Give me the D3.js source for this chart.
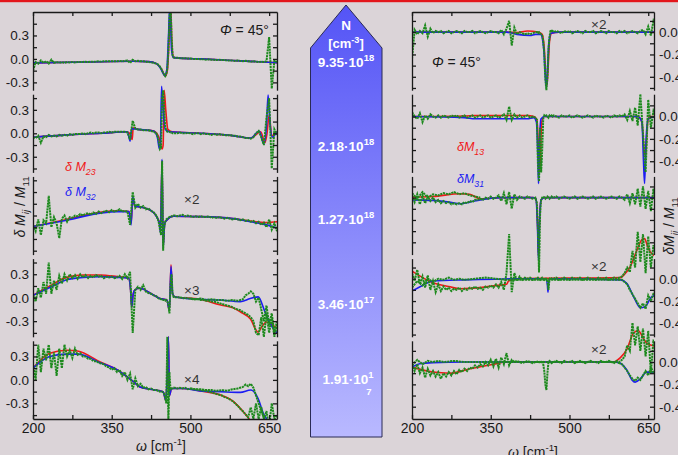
<!DOCTYPE html>
<html><head><meta charset="utf-8">
<script src="https://cdn.jsdelivr.net/npm/d3@7"></script>
<style>html,body{margin:0;padding:0;background:#dbd4d8;overflow:hidden}svg{display:block;font-family:"Liberation Sans",Arial,sans-serif}</style>
</head><body><svg id="c" width="678" height="455"></svg>
<script>
// ---------------- DATA ----------------
// wavenumber grid of the measured (green) spectra, cm^-1
const W = [...d3.range(200, 436, 5), 438,440,442,444,446,448,450,452,454,456,458,460,462,464,466,468, ...d3.range(470, 666, 5)];
const xTicksLabeled = [200, 350, 500, 650];
const xTicksAll = [200, 275, 350, 425, 500, 575, 650];
const densities = ["9.35·10|18", "2.18·10|18", "1.27·10|18", "3.46·10|17", "1.91·10|1"];

// ---- left column: dM23 (red model), dM32 (blue model), measured (green) ----
const redL1 = [[200,-0.05],[300,-0.04],[390,-0.03],[420,-0.035],[435,-0.06],[445,-0.13],[452,-0.22],[456,-0.15],[459,0.2],[462,0.7],[465,0.15],[468,0.02],[480,0.01],[520,0],[580,-0.02],[640,-0.04],[665,-0.05]];
const blueL1 = [[200,-0.05],[300,-0.04],[390,-0.03],[420,-0.035],[435,-0.06],[444,-0.13],[451,-0.21],[455,-0.14],[458,0.25],[461,0.7],[464,0.12],[467,0.02],[480,0.01],[520,0],[580,-0.02],[640,-0.04],[665,-0.05]];
const greenL1 = [-0.15,-0.04,-0.06,-0.02,-0.05,-0.03,-0.06,-0.01,-0.05,-0.04, -0.05,-0.04,-0.05,-0.04,-0.045,-0.04,-0.045,-0.04,-0.04,-0.04, -0.035,-0.04,-0.035,-0.035,-0.035,-0.03,-0.035,-0.03,-0.03,-0.03, -0.03,-0.03,-0.03,-0.025,-0.03,-0.025,-0.02,-0.05,-0.01,-0.03, -0.025,-0.03,-0.03,-0.035,-0.04,-0.045,-0.05,-0.06,
  -0.07,-0.08,-0.1,-0.12,-0.15,-0.18,-0.2,-0.22,-0.2,-0.12,0.1,0.5,0.75,0.3,0.05,0.02,
  0.015,0.015,0.01,0.01,0.01,0.005,0.005,0,0,0, -0.005,-0.005,-0.01,-0.005,-0.01,-0.01,-0.015,-0.01,-0.015,-0.015, -0.02,-0.02,-0.02,-0.025,-0.02,-0.025,-0.03,-0.025,-0.03,-0.035, -0.03,-0.035,-0.04,-0.035,-0.04,-0.03,0.28,-0.38,-0.02,-0.04];

const redL2 = [[200,-0.05],[265,-0.02],[330,0],[380,0.02],[386,-0.02],[389,-0.08],[391,0.07],[400,0.05],[430,0.03],[440,-0.05],[446,-0.2],[448,-0.15],[450,0.55],[453,0.3],[457,0.05],[465,0.02],[520,0],[580,-0.03],[615,-0.06],[634,0.02],[642,-0.12],[646,0],[650,0.23],[655,-0.03],[665,0.02]];
const blueL2 = [[200,-0.05],[265,-0.02],[330,0],[380,0.02],[385,-0.1],[388,0.06],[400,0.05],[430,0.03],[437,-0.05],[441,-0.2],[443,-0.1],[445,0.6],[448,0.3],[452,0.05],[460,0.02],[520,0],[580,-0.03],[615,-0.06],[631,0.03],[640,-0.13],[645,0.1],[648,0.49],[652,0.1],[656,-0.05],[665,0.02]];
const greenL2 = [-0.05,-0.06,-0.03,-0.12,-0.04,-0.05,-0.02,-0.04,-0.03,-0.04, -0.02,-0.03,-0.02,-0.03,-0.01,-0.02,-0.01,-0.01,-0.01,0, -0.01,0,0.01,0,0.01,0.01,0,0.01,0.01,0.02, 0.01,0.02,0.02,0.02,0.02,0.02,0.01,-0.08,0.16,0.06, 0.05,0.05,0.04,0.04,0.04,0.03,0.02,0,
  -0.05,-0.12,-0.2,-0.18,0.45,0.55,0.3,0.08,0.04,0.02,0.02,0.02,0.01,0.01,0,0,
  0,0,0.01,0,0,0.005,0,-0.01,0,0, -0.01,0,-0.01,-0.01,-0.02,-0.01,-0.02,-0.01,-0.02,-0.02, -0.03,-0.02,-0.03,-0.03,-0.04,-0.04,-0.05,-0.06,-0.06,-0.07, -0.05,0,0.03,-0.05,-0.15,0.2,0.45,-0.45,0.05,-0.02];

const redL3 = [[200,-0.14],[264,-0.05],[328,0.04],[360,0.06],[383,0.05],[387,-0.1],[390,0.22],[394,0.12],[404,0.11],[423,0.07],[436,-0.02],[441,-0.1],[443,-0.2],[446,0.7],[448,-0.4],[451,-0.1],[455,-0.06],[467,-0.01],[518,-0.015],[581,-0.04],[614,-0.07],[645,-0.09],[665,-0.08]];
const blueL3 = [[200,-0.14],[264,-0.06],[328,0.03],[360,0.05],[383,0.05],[387,-0.12],[390,0.24],[394,0.12],[404,0.11],[423,0.07],[436,-0.02],[441,-0.1],[443,-0.22],[446,0.72],[448,-0.42],[451,-0.1],[455,-0.06],[467,-0.01],[518,-0.015],[581,-0.04],[614,-0.08],[645,-0.12],[665,-0.16]];
const greenL3 = [-0.12,-0.2,-0.05,-0.25,-0.06,-0.1,0.25,-0.15,-0.02,-0.1, -0.29,-0.04,0,-0.08,-0.02,-0.03,0,-0.01,0.02,0, 0.02,0.03,0.01,0.04,0.02,0.05,0.03,0.05,0.06,0.04, 0.07,0.05,0.06,0.08,0.05,0.06,0.05,-0.12,0.3,0.1, 0.15,0.1,0.12,0.08,0.09,0.06,0.04,0,
  -0.05,-0.1,-0.18,-0.25,0.7,-0.45,-0.15,-0.08,-0.05,-0.04,-0.03,-0.02,-0.01,-0.01,-0.01,0,
  0,-0.01,0,0.01,-0.01,0,-0.01,-0.02,-0.01,-0.02, -0.01,-0.02,-0.02,-0.01,-0.03,-0.02,-0.03,-0.02,-0.03,-0.04, -0.03,-0.04,-0.05,-0.04,-0.05,-0.06,-0.05,-0.07,-0.06,-0.08, -0.07,-0.1,-0.08,-0.12,-0.09,-0.15,-0.05,-0.18,-0.1,-0.2];

const redL4 = [[200,0.03],[232,0.15],[264,0.26],[296,0.29],[328,0.29],[360,0.27],[382,0.25],[386,0.1],[388,-0.12],[391,0.05],[394,0.1],[404,0.12],[423,0.06],[442,-0.01],[455,-0.03],[460,-0.16],[463,0.42],[466,0.05],[471,0.01],[518,-0.02],[556,-0.09],[581,-0.13],[595,-0.18],[614,-0.27],[629,-0.44],[636,-0.37],[645,-0.31],[652,-0.33],[665,-0.39]];
const blueL4 = [[200,0.03],[232,0.13],[264,0.23],[296,0.26],[328,0.27],[360,0.26],[382,0.25],[386,0.1],[388,-0.12],[391,0.05],[394,0.1],[404,0.12],[423,0.06],[442,-0.01],[455,-0.03],[460,-0.16],[463,0.4],[466,0.05],[471,0.01],[518,-0.02],[556,-0.03],[595,-0.05],[614,-0.01],[629,0.01],[642,-0.18],[652,-0.33],[661,-0.42],[665,-0.45]];
const greenL4 = [0.05,-0.05,0.12,0,0.2,0.05,0.45,0.05,0.22,0.1, 0.28,0.18,0.3,0.22,0.3,0.25,0.29,0.24,0.3,0.26, 0.29,0.25,0.28,0.26,0.29,0.27,0.28,0.25,0.27,0.26, 0.27,0.25,0.26,0.28,0.24,0.3,0.25,0.33,-0.45,0.1, 0.14,0.1,0.16,0.08,0.06,0.05,0.03,0.02,
  0,-0.01,-0.01,-0.02,-0.02,-0.03,-0.03,-0.04,-0.03,-0.05,-0.08,-0.2,0.15,0.3,0.05,0.01,
  0.01,0,0.01,-0.01,0,-0.01,-0.01,-0.02,-0.02,-0.02, -0.03,-0.03,-0.04,-0.04,-0.05,-0.05,-0.06,-0.07,-0.08,-0.09, -0.1,-0.11,-0.12,-0.14,-0.15,-0.16,-0.18,-0.2,-0.22,-0.25, -0.3,-0.45,-0.48,-0.25,-0.5,-0.2,-0.45,-0.25,-0.5,-0.35];
const green2L4 = [[500,-0.01],[510,-0.02],[520,-0.01],[530,-0.03],[540,-0.02],[550,-0.03],[560,-0.03],[570,-0.04],[580,-0.03],[590,-0.04],[600,-0.02],[605,0.03],[610,0.05],[615,0.08],[620,0.05],[625,-0.05],[630,0],[635,-0.15],[640,-0.3],[645,-0.1],[650,-0.35],[655,-0.2],[660,-0.45],[665,-0.3]];

const redL5 = [[200,0.15],[232,0.34],[265,0.38],[285,0.37],[328,0.23],[360,0.13],[391,-0.02],[404,-0.09],[423,-0.12],[448,-0.15],[453,-0.26],[456,0.1],[458,0.55],[460,-0.2],[464,-0.11],[486,-0.11],[518,-0.14],[556,-0.19],[581,-0.27],[600,-0.4],[612,-0.5],[620,-0.58]];
const blueL5 = [[200,0.15],[232,0.3],[265,0.33],[285,0.33],[328,0.22],[360,0.13],[391,-0.02],[404,-0.09],[423,-0.12],[448,-0.15],[453,-0.26],[456,0.1],[458,0.55],[460,-0.2],[464,-0.11],[486,-0.11],[518,-0.14],[556,-0.15],[595,-0.16],[615,-0.13],[629,-0.24],[639,-0.43],[645,-0.5],[650,-0.6]];
const greenL5 = [0.2,0,0.45,0.1,0.4,0.25,0.45,0.15,0.35,0.05, 0.4,0.15,0.45,0.3,0.38,0.28,0.4,0.32,0.34,0.3, 0.3,0.27,0.27,0.24,0.24,0.22,0.21,0.2,0.17,0.16, 0.13,0.15,0.1,0.13,0.05,0.1,0,0.08,-0.12,0.02, -0.08,-0.05,-0.1,-0.09,-0.12,-0.11,-0.13,-0.13,
  -0.14,-0.14,-0.15,-0.15,-0.15,-0.16,-0.18,-0.22,-0.3,0.55,-0.55,0.1,-0.12,-0.11,-0.11,-0.1,
  -0.1,-0.11,-0.1,-0.11,-0.1,-0.12,-0.11,-0.12,-0.12,-0.13, -0.13,-0.14,-0.14,-0.15,-0.16,-0.17,-0.18,-0.19,-0.2,-0.22, -0.23,-0.25,-0.27,-0.3,-0.33,-0.37,-0.4,-0.44,-0.48,-0.35, -0.5,-0.3,-0.5,-0.35,-0.5,-0.4,-0.6,-0.3,-0.5,-0.45];
const green2L5 = [[500,-0.11],[510,-0.12],[520,-0.12],[530,-0.13],[540,-0.13],[550,-0.14],[560,-0.13],[570,-0.14],[580,-0.12],[590,-0.11],[600,-0.09],[605,-0.06],[610,-0.08],[615,-0.05],[620,-0.1],[625,-0.2],[630,-0.3],[635,-0.4],[640,-0.48],[645,-0.55]];

// ---- right column: dM13 (red), dM31 (blue), measured (green) ----
const redR1 = [[200,0],[380,0],[400,-0.005],[420,0.01],[440,0],[448,-0.02],[452,-0.15],[455,-0.4],[457,-0.48],[459,-0.35],[462,-0.08],[466,-0.01],[480,0],[665,0]];
const blueR1 = [[200,0],[380,0],[400,-0.02],[425,-0.03],[435,-0.02],[445,-0.02],[451,-0.15],[454,-0.4],[456,-0.5],[458,-0.35],[461,-0.08],[465,-0.01],[480,0],[665,0]];
const greenR1 = [-0.24,0.02,-0.02,0.01,-0.01,0.06,-0.04,0.03,-0.01,0.01, 0,0.01,-0.01,0,0.01,-0.01,0,0.01,0,-0.01, 0.01,0,0,0.01,-0.01,0,0.01,0,-0.01,0, 0.01,0,0,-0.01,0.02,-0.02,0.03,0.1,-0.12,0.04, -0.02,0,-0.01,-0.02,-0.01,-0.02,-0.01,0,
  0,-0.01,0,-0.01,-0.02,-0.03,-0.08,-0.2,-0.42,-0.52,-0.4,-0.15,-0.04,0.02,0,0.01,
  0,0.01,0,-0.01,0.01,0,0.01,-0.01,0,0.01, 0,-0.01,0.01,0,0,0.01,-0.01,0,0.01,0, -0.01,0.01,0,0,-0.01,0.01,0,0.01,-0.01,0, 0.01,0,-0.01,0.01,0.02,-0.02,0.05,-0.03,0.1,0.05];

const redR2 = [[200,0],[300,0.005],[320,0.01],[420,0.01],[432,0],[438,-0.03],[441,-0.3],[443,-0.5],[445,-0.3],[447,-0.05],[452,0],[600,0],[630,0],[638,-0.05],[642,-0.3],[645,-0.35],[648,-0.1],[652,0],[665,0]];
const blueR2 = [[200,0],[300,-0.01],[320,-0.02],[420,-0.02],[432,-0.01],[437,-0.05],[440,-0.4],[441,-0.6],[443,-0.2],[446,-0.02],[452,0],[600,0],[630,0],[638,-0.05],[641,-0.4],[643,-0.6],[646,-0.2],[650,-0.02],[665,0]];
const greenR2 = [0.04,0,-0.02,0.03,-0.05,0.01,-0.02,0.02,0,-0.01, 0.01,-0.01,0.01,0,-0.01,0.01,0,0.01,-0.01,0, 0.01,-0.01,0,0.01,-0.01,0,0.01,-0.01,0,0.01, -0.01,0,0.01,-0.01,0,0.02,-0.03,0.09,-0.03,0.02, -0.01,0.01,-0.01,0,0.01,-0.01,0,-0.01,
  -0.03,-0.45,-0.58,-0.1,-0.5,-0.3,-0.02,0.01,0,0.01,0,-0.01,0.01,0,0.01,0,
  0.01,0,-0.01,0.01,0,0,0.01,-0.01,0,0.01, 0,-0.01,0,0.01,0,-0.01,0.01,0,0,-0.01, 0.01,0,-0.01,0.01,0,0.01,0,0.02,-0.03,0.05, -0.04,0.08,-0.08,0.2,-0.15,-0.5,0.15,-0.1,0.05,0];

const redR3 = [[200,0.005],[240,0.01],[292,0.035],[310,0.03],[330,-0.01],[368,0],[430,0],[436,-0.01],[439,-0.2],[441,-0.52],[443,-0.2],[446,-0.02],[452,0],[600,0],[665,0]];
const blueR3 = [[200,-0.02],[240,-0.025],[270,-0.04],[292,-0.055],[310,-0.04],[330,-0.02],[368,0],[430,0],[436,-0.01],[439,-0.25],[441,-0.56],[443,-0.2],[446,-0.02],[452,0],[600,0],[665,0]];
const greenR3 = [0.02,-0.04,0.03,-0.06,0.02,-0.05,0.01,-0.03,0,-0.04, -0.02,-0.05,-0.03,-0.05,-0.04,-0.06,-0.05,-0.06,-0.05,-0.06, -0.04,-0.05,-0.03,-0.04,-0.02,-0.02,-0.01,-0.02,0,-0.01, 0.01,-0.01,0,0.02,-0.03,0.04,-0.06,0.05,-0.1,0.03, -0.02,0.01,0,-0.01,0.01,0,-0.01,0,
  -0.05,-0.3,-0.67,-0.15,-0.02,0,0.01,0,-0.01,0,0.01,0,-0.01,0,0.01,0,
  0,0.01,-0.01,0,0.01,0,-0.01,0,0.01,-0.01, 0,0.01,0,-0.01,0,0.01,-0.01,0,0.01,0, -0.01,0,0.01,0,-0.01,0.01,0,-0.02,0.03,-0.05, 0.04,-0.06,0.08,-0.08,0.1,-0.1,0.06,-0.12,0.08,-0.05];
const green2R3 = [[200,0.04],[210,-0.01],[220,0.05],[230,0],[240,0.03],[250,0.02],[260,0.04],[270,0.03],[280,0.05],[290,0.03],[300,0.04],[310,0.02],[320,0.01],[330,0]];

const redR4 = [[200,0.068],[240,-0.036],[270,-0.07],[292,-0.09],[330,-0.08],[361,-0.06],[380,-0.05],[384,-0.02],[400,0],[597,0.01],[605,0.04],[616,0.11],[628,0.25],[638,0.35],[643,0.36],[648,0.3],[654,0.24],[665,0.2]];
const blueR4 = [[200,-0.11],[220,-0.06],[240,-0.02],[300,-0.01],[360,-0.005],[400,0],[455,0],[458,-0.06],[459,-0.12],[460,-0.06],[462,0],[597,-0.01],[609,-0.04],[622,-0.16],[635,-0.26],[644,-0.25],[657,-0.16],[665,-0.15]];
const greenR4 = [0.05,-0.02,0.08,-0.05,0.02,-0.08,0.03,-0.1,-0.02,-0.12, -0.05,-0.11,-0.07,-0.1,-0.08,-0.11,-0.09,-0.1,-0.08,-0.11, -0.09,-0.1,-0.08,-0.09,-0.07,-0.09,-0.08,-0.1,-0.07,-0.08, -0.06,-0.08,-0.05,-0.08,-0.03,-0.1,0.05,0.4,-0.12,0.05, -0.02,0.02,-0.01,0.01,0,0.01,-0.01,0,
  0,0.01,0,-0.01,0,0.01,0,-0.01,0,0,-0.02,-0.1,0,0.01,0,0,
  0,0.01,-0.01,0,0.01,0,-0.01,0.01,0,0, 0.01,-0.01,0,0.01,0,0,-0.01,0.01,0,0, 0.01,-0.01,0,0.01,0,0.01,0.02,0.05,0.1,0.06, 0.25,0.1,0.42,0.15,0.4,0.05,0.38,0.1,0.3,0.2];
const green2R4 = [[200,-0.08],[210,-0.02],[220,-0.06],[230,0],[240,-0.03],[250,0],[260,-0.01],[270,0.01],[280,-0.01],[290,0],[300,-0.01],[320,0],[340,0.01],[360,0],[380,-0.01],[600,-0.01],[605,-0.03],[610,-0.05],[615,-0.1],[620,-0.14],[625,-0.18],[630,-0.22],[635,-0.26],[640,-0.22],[645,-0.27],[650,-0.15],[655,-0.2],[661,-0.12]];

const redR5 = [[200,-0.045],[240,-0.09],[272,-0.1],[311,-0.06],[355,-0.02],[381,0],[583,0],[597,0.04],[609,0.11],[622,0.26],[631,0.28],[640,0.22],[647,0.17],[665,0.14]];
const blueR5 = [[200,-0.045],[215,-0.015],[240,-0.005],[300,0],[583,0],[597,-0.01],[609,-0.07],[619,-0.16],[625,-0.18],[635,-0.15],[647,-0.09],[665,-0.09]];
const greenR5 = [-0.02,-0.08,-0.02,-0.1,-0.05,-0.14,-0.06,-0.12,-0.08,-0.13, -0.09,-0.15,-0.1,-0.13,-0.09,-0.12,-0.08,-0.11,-0.07,-0.09, -0.06,-0.08,-0.05,-0.06,-0.03,-0.05,-0.02,-0.04,0,-0.03, 0.02,-0.04,0.03,-0.05,0.04,-0.02,0.08,-0.03,0.02,0, 0.01,0,-0.01,0,0.01,0,-0.01,0,
  0,0.01,0,-0.01,0,0.01,-0.02,-0.08,-0.2,-0.25,-0.1,0,0.01,0,-0.01,0,
  0,0.01,0,-0.01,0.01,0,0,0.01,-0.01,0, 0.01,0,-0.01,0,0.01,0,0,-0.01,0.01,0, 0,0.01,0,-0.01,0.01,0,0.02,0.05,0.15,0.1, 0.35,0.15,0.32,0.1,0.3,0.05,0.28,-0.1,0.2,0.1];
const green2R5 = [[200,-0.03],[210,0.02],[220,-0.02],[230,0.01],[240,0],[250,0.01],[260,0],[280,0.01],[300,0],[340,0],[380,0],[590,0],[600,-0.02],[605,-0.05],[610,-0.08],[615,-0.12],[620,-0.15],[625,-0.17],[630,-0.14],[635,-0.16],[640,-0.12],[645,-0.08],[650,-0.12],[655,-0.05],[661,-0.1]];

// ---------------- LAYOUT ----------------
const svg = d3.select("#c");
const COL = { red: "#f01818", blue: "#1c1cf2", green: "#1e8a1e", ink: "#1a1a1a" };
const TOP = 12, PH = 78.2, GAP = 4;
const xL = d3.scaleLinear().domain([200, 665]).range([33, 277]);
const xR = d3.scaleLinear().domain([200, 661]).range([412, 654]);

svg.append("rect").attr("width", 678).attr("height", 455).attr("fill", "#dbd4d8");
svg.append("rect").attr("x", 0).attr("y", 0).attr("width", 678).attr("height", 2.2).attr("fill", "#e3161c");

const defs = svg.append("defs");
[["clipL", xL], ["clipR", xR]].forEach(([id, x]) => {
  defs.append("clipPath").attr("id", id).append("rect")
    .attr("x", x.range()[0]).attr("y", TOP).attr("width", x.range()[1] - x.range()[0]).attr("height", 5 * PH + 4 * GAP);
});

function pairsFromGrid(vals) { return vals.map((v, i) => [W[i], v]); }

function rich(sel, x, y, parts, size, attrs) {
  const t = sel.append("text").attr("x", x).attr("y", y).attr("font-size", size);
  Object.entries(attrs || {}).forEach(([k, v]) => t.attr(k, v));
  let shift = 0;
  parts.forEach(p => {
    const [s, type, st] = p;
    const ts = t.append("tspan").text(s);
    const target = type === "sup" ? -size * 0.42 : type === "sub" ? size * 0.3 : 0;
    ts.attr("dy", target - shift); shift = target;
    if (type === "sup" || type === "sub") ts.attr("font-size", size * 0.7);
    Object.entries(st || {}).forEach(([k, v]) => ts.attr(k, v));
  });
  return t;
}

const leftPanels = [
  { dom: [-0.4, 0.6], red: redL1, blue: blueL1, green: greenL1, g2: null, lab: true },
  { dom: [-0.5, 0.5], red: redL2, blue: blueL2, green: greenL2, g2: null, lab: true },
  { dom: [-0.5, 0.5], red: redL3, blue: blueL3, green: greenL3, g2: null, lab: false },
  { dom: [-0.5, 0.5], red: redL4, blue: blueL4, green: greenL4, g2: green2L4, lab: true },
  { dom: [-0.5, 0.5], red: redL5, blue: blueL5, green: greenL5, g2: green2L5, lab: true }
];
const rightPanels = [
  { dom: [-0.52, 0.18], red: redR1, blue: blueR1, green: greenR1, g2: null, lab: true },
  { dom: [-0.5, 0.2], red: redR2, blue: blueR2, green: greenR2, g2: null, lab: true },
  { dom: [-0.51, 0.19], red: redR3, blue: blueR3, green: greenR3, g2: green2R3, lab: false },
  { dom: [-0.52, 0.18], red: redR4, blue: blueR4, green: greenR4, g2: green2R4, lab: true },
  { dom: [-0.51, 0.19], red: redR5, blue: blueR5, green: greenR5, g2: green2R5, lab: true }
];

function drawColumn(panels, x, left) {
  const [x0, x1] = x.range();
  const tickVals = left ? [-0.45, -0.3, -0.15, 0, 0.15, 0.3, 0.45] : [-0.5, -0.4, -0.3, -0.2, -0.1, 0, 0.1];
  const labVals = left ? [-0.3, 0, 0.3] : [-0.4, -0.2, 0];
  const plot = svg.append("g").attr("clip-path", `url(#${left ? "clipL" : "clipR"})`);
  panels.forEach((p, i) => {
    const top = TOP + i * (PH + GAP);
    const y = d3.scaleLinear().domain(p.dom).range([top + PH, top]);
    const tv = tickVals.filter(v => v > p.dom[0] + 0.01 && v < p.dom[1] - 0.01);
    const aL = svg.append("g").attr("transform", `translate(${x0},0)`)
      .call(d3.axisRight(y).tickValues(tv).tickSize(4).tickSizeOuter(0).tickFormat(""));
    const aR = svg.append("g").attr("transform", `translate(${x1},0)`)
      .call(d3.axisLeft(y).tickValues(tv).tickSize(4).tickSizeOuter(0).tickFormat(""));
    [aL, aR].forEach(a => { a.selectAll("path,line").attr("stroke", COL.ink).attr("stroke-width", 1.3); });
    if (p.lab) {
      const lab = svg.append("g").attr("transform", `translate(${left ? x0 : x1},0)`)
        .call((left ? d3.axisLeft(y) : d3.axisRight(y)).tickValues(labVals).tickSize(0).tickPadding(left ? 4 : 5)
          .tickFormat(d => d.toFixed(1)));
      lab.select(".domain").remove();
      lab.selectAll("text").attr("font-size", 13.5).attr("fill", COL.ink).attr("font-family", null);
    }
    const lineS = d3.line().x(d => x(d[0])).y(d => y(d[1])).curve(d3.curveMonotoneX);
    const lineG = d3.line().x(d => x(d[0])).y(d => y(d[1]));
    plot.append("path").attr("d", lineS(p.red)).attr("fill", "none").attr("stroke", COL.red).attr("stroke-width", 1.6);
    plot.append("path").attr("d", lineS(p.blue)).attr("fill", "none").attr("stroke", COL.blue).attr("stroke-width", 1.6);
    if (p.g2) plot.append("path").attr("d", lineG(p.g2)).attr("fill", "none").attr("stroke", COL.green)
      .attr("stroke-width", 2).attr("stroke-dasharray", "2.2,0.7");
    plot.append("path").attr("d", lineG(pairsFromGrid(p.green))).attr("fill", "none").attr("stroke", COL.green)
      .attr("stroke-width", 2).attr("stroke-dasharray", "2.2,0.7");
  });
  const bottom = TOP + 5 * PH + 4 * GAP;
  const at = svg.append("g").attr("transform", `translate(0,${TOP})`)
    .call(d3.axisBottom(x).tickValues(xTicksAll).tickSize(4).tickSizeOuter(0).tickFormat(""));
  const ab = svg.append("g").attr("transform", `translate(0,${bottom})`)
    .call(d3.axisTop(x).tickValues(xTicksAll).tickSize(4).tickSizeOuter(0).tickFormat(""));
  [at, ab].forEach(a => a.selectAll("path,line").attr("stroke", COL.ink).attr("stroke-width", 1.3));
  const xl = svg.append("g").attr("transform", `translate(0,${bottom})`)
    .call(d3.axisBottom(x).tickValues(xTicksLabeled).tickSize(0).tickPadding(4).tickFormat(d3.format("d")));
  xl.select(".domain").remove();
  xl.selectAll("text").attr("font-size", 14).attr("fill", COL.ink).attr("font-family", null);
}

drawColumn(leftPanels, xL, true);
drawColumn(rightPanels, xR, false);

// axis titles
rich(svg, 161, 451, [["ω", "", { "font-style": "italic" }], [" [cm"], ["-1", "sup"], ["]"]], 14, { "text-anchor": "middle", fill: COL.ink });
rich(svg, 533, 457, [["ω", "", { "font-style": "italic" }], [" [cm"], ["-1", "sup"], ["]"]], 14, { "text-anchor": "middle", fill: COL.ink });
rich(svg.append("g").attr("transform", "translate(25,207) rotate(-90)"), 0, 0,
  [["δ ", "", { "font-style": "italic" }], ["M", "", { "font-style": "italic" }], ["ij", "sub", { "font-style": "italic" }], [" / "], ["M", "", { "font-style": "italic" }], ["11", "sub"]],
  14, { "text-anchor": "middle", fill: COL.ink });
rich(svg.append("g").attr("transform", "translate(674,226) rotate(-90)"), 0, 0,
  [["δ", "", { "font-style": "italic" }], ["M", "", { "font-style": "italic" }], ["ii", "sub", { "font-style": "italic" }], [" / "], ["M", "", { "font-style": "italic" }], ["11", "sub"]],
  14, { "text-anchor": "middle", fill: COL.ink });

// legends
rich(svg, 65, 171, [["δ M", "", { "font-style": "italic" }], ["23", "sub", { "font-style": "italic" }]], 12.5, { fill: COL.red });
rich(svg, 65, 196, [["δ M", "", { "font-style": "italic" }], ["32", "sub", { "font-style": "italic" }]], 12.5, { fill: COL.blue });
rich(svg, 457, 151, [["δM", "", { "font-style": "italic" }], ["13", "sub", { "font-style": "italic" }]], 12.5, { fill: COL.red });
rich(svg, 457, 183, [["δM", "", { "font-style": "italic" }], ["31", "sub", { "font-style": "italic" }]], 12.5, { fill: COL.blue });

// angle labels
rich(svg, 220, 35, [["Φ", "", { "font-style": "italic" }], [" = 45°"]], 14, { fill: COL.ink });
rich(svg, 432, 67, [["Φ", "", { "font-style": "italic" }], [" = 45°"]], 14, { fill: COL.ink });

// scale factors
[[184, 204, "×2"], [184, 295, "×3"], [184, 384, "×4"], [591, 29, "×2"], [591, 271, "×2"], [591, 354, "×2"]]
  .forEach(([x, y, s]) => svg.append("text").attr("x", x).attr("y", y).attr("font-size", 13.5).attr("fill", "#333").text(s));

// density arrow
const grad = defs.append("linearGradient").attr("id", "ng").attr("gradientUnits", "userSpaceOnUse")
  .attr("x1", 0).attr("x2", 0).attr("y1", 5).attr("y2", 437);
grad.append("stop").attr("offset", 0).attr("stop-color", "#5454f6");
grad.append("stop").attr("offset", 1).attr("stop-color", "#b9b9ff");
svg.append("polygon").attr("points", "310.5,48 346,5 382,48 382,437 310.5,437")
  .attr("fill", "url(#ng)").attr("stroke", "#2a2a55").attr("stroke-width", 1);
const wb = { fill: "#fff", "font-weight": "bold", "text-anchor": "middle" };
svg.append("text").attr("x", 346).attr("y", 30).attr("font-size", 13.5).attr("fill", "#fff").attr("font-weight", "bold").attr("text-anchor", "middle").text("N");
rich(svg, 346, 48, [["[cm"], ["-3", "sup"], ["]"]], 13, wb);
const nY = [67, 151, 224, 309, 384];
densities.forEach((s, i) => {
  const [m, e] = s.split("|");
  rich(svg, i === 4 ? 348 : 346, nY[i], [[m], [e, "sup"]], 13.5, wb);
});
svg.append("text").attr("x", 369).attr("y", 395).attr("font-size", 9.5).attr("fill", "#fff").attr("font-weight", "bold").attr("text-anchor", "middle").text("7");
</script></body></html>
